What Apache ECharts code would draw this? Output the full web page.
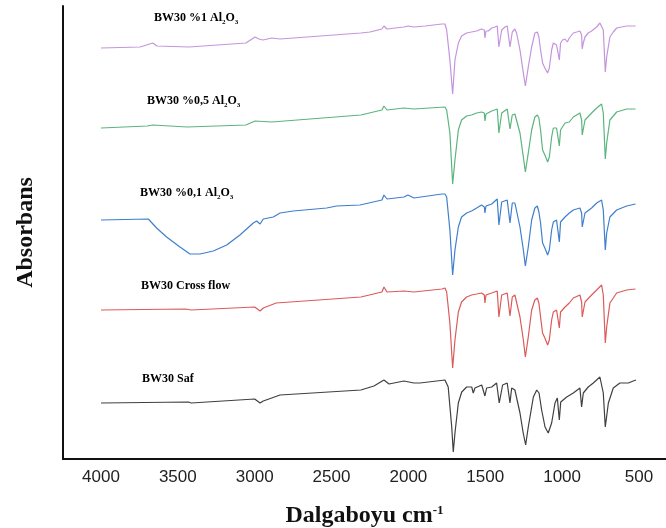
<!DOCTYPE html>
<html>
<head>
<meta charset="utf-8">
<script src="https://cdn.jsdelivr.net/npm/echarts@6/dist/echarts.min.js"></script>
<style>
html,body{margin:0;padding:0;background:#fff;}
#chart{width:666px;height:528px;}
</style>
</head>
<body>
<div id="chart"></div>
<script>
// x tick labels (wavenumber, cm-1)
const xTicks = [4000, 3500, 3000, 2500, 2000, 1500, 1000, 500];

// series names
const seriesNames = ['BW30 %1 Al2O3', 'BW30 %0,5 Al2O3', 'BW30 %0,1 Al2O3', 'BW30 Cross flow', 'BW30 Saf'];

// spectra: [wavenumber, absorbance (offset, a.u.)]
const spec1Al = [[4000,4.11],[3746,4.12],[3662,4.16],[3636,4.13],[3427,4.12],[3057,4.16],[2998,4.22],[2972,4.20],[2946,4.19],[2888,4.21],[2835,4.20],[2309,4.26],[2250,4.27],[2172,4.30],[2159,4.33],[2139,4.30],[2029,4.32],[2003,4.33],[1964,4.32],[1892,4.33],[1782,4.35],[1762,4.35],[1751,4.29],[1730,3.99],[1712,3.65],[1697,3.99],[1675,4.16],[1654,4.23],[1621,4.26],[1589,4.27],[1556,4.28],[1524,4.30],[1506,4.29],[1502,4.21],[1495,4.28],[1480,4.28],[1458,4.31],[1437,4.32],[1422,4.33],[1411,4.12],[1404,4.12],[1393,4.29],[1372,4.32],[1357,4.33],[1348,4.32],[1339,4.12],[1333,4.12],[1324,4.27],[1307,4.30],[1296,4.26],[1274,4.09],[1252,3.86],[1239,3.73],[1220,3.92],[1198,4.12],[1177,4.26],[1161,4.27],[1151,4.22],[1140,4.09],[1127,3.96],[1112,3.91],[1094,3.86],[1083,3.91],[1068,4.09],[1057,4.16],[1046,4.16],[1036,4.14],[1018,3.99],[1010,4.16],[997,4.19],[981,4.20],[966,4.17],[953,4.21],[927,4.26],[905,4.27],[884,4.28],[873,4.24],[869,4.10],[862,4.16],[851,4.22],[830,4.26],[808,4.28],[797,4.27],[775,4.32],[754,4.36],[743,4.37],[732,4.29],[719,3.87],[710,4.02],[689,4.22],[667,4.27],[645,4.31],[613,4.32],[580,4.33],[537,4.33],[522,4.33]];

const spec05Al = [[4000,3.31],[3700,3.33],[3662,3.34],[3440,3.32],[3057,3.34],[2998,3.38],[2888,3.37],[2309,3.44],[2172,3.49],[2159,3.53],[2139,3.49],[2029,3.51],[1964,3.50],[1762,3.52],[1751,3.49],[1730,3.26],[1712,2.75],[1697,2.99],[1675,3.29],[1654,3.39],[1621,3.43],[1589,3.44],[1556,3.46],[1524,3.47],[1506,3.46],[1502,3.38],[1495,3.45],[1458,3.48],[1422,3.50],[1411,3.26],[1404,3.26],[1393,3.46],[1357,3.50],[1339,3.30],[1333,3.29],[1324,3.44],[1307,3.45],[1274,3.26],[1252,3.02],[1239,2.87],[1220,3.06],[1198,3.29],[1177,3.42],[1161,3.44],[1151,3.41],[1140,3.29],[1127,3.09],[1112,3.04],[1094,2.97],[1083,3.02],[1068,3.22],[1057,3.31],[1036,3.31],[1018,3.13],[1010,3.29],[981,3.36],[953,3.37],[927,3.42],[884,3.46],[873,3.39],[869,3.24],[851,3.39],[808,3.46],[775,3.51],[743,3.55],[732,3.46],[719,3.00],[710,3.16],[689,3.39],[645,3.47],[580,3.50],[522,3.50]];

const spec01Al = [[4000,2.39],[3692,2.40],[3638,2.31],[3573,2.22],[3486,2.12],[3421,2.05],[3356,2.05],[3269,2.08],[3182,2.14],[3096,2.24],[3009,2.36],[2987,2.38],[2965,2.35],[2944,2.40],[2879,2.42],[2835,2.46],[2749,2.48],[2532,2.51],[2467,2.53],[2315,2.54],[2172,2.59],[2159,2.64],[2139,2.60],[2029,2.62],[2003,2.64],[1964,2.61],[1782,2.65],[1762,2.65],[1751,2.62],[1730,2.29],[1712,1.84],[1697,2.09],[1675,2.32],[1654,2.42],[1621,2.46],[1589,2.48],[1556,2.51],[1524,2.54],[1506,2.52],[1502,2.46],[1495,2.53],[1458,2.55],[1422,2.60],[1411,2.34],[1404,2.34],[1393,2.57],[1357,2.59],[1339,2.36],[1333,2.35],[1324,2.56],[1307,2.56],[1274,2.32],[1252,2.09],[1239,1.93],[1220,2.12],[1198,2.39],[1177,2.51],[1161,2.53],[1151,2.47],[1140,2.36],[1127,2.16],[1112,2.11],[1094,2.04],[1083,2.09],[1068,2.29],[1057,2.37],[1036,2.39],[1018,2.17],[1010,2.37],[981,2.42],[953,2.46],[927,2.49],[884,2.51],[873,2.46],[869,2.32],[851,2.46],[808,2.51],[775,2.56],[743,2.59],[732,2.49],[719,2.09],[710,2.26],[689,2.42],[645,2.49],[580,2.53],[522,2.55]];

const specCross = [[4000,1.49],[3450,1.50],[3413,1.49],[3000,1.52],[2965,1.48],[2944,1.51],[2860,1.56],[2309,1.62],[2172,1.67],[2159,1.72],[2139,1.67],[2029,1.68],[1964,1.67],[1782,1.70],[1762,1.71],[1751,1.67],[1730,1.36],[1712,0.91],[1697,1.19],[1675,1.47],[1654,1.57],[1621,1.62],[1589,1.64],[1556,1.65],[1524,1.66],[1506,1.64],[1502,1.56],[1495,1.64],[1458,1.66],[1422,1.68],[1411,1.42],[1404,1.42],[1393,1.64],[1357,1.66],[1339,1.43],[1333,1.42],[1324,1.62],[1307,1.64],[1274,1.42],[1252,1.19],[1239,1.02],[1220,1.22],[1198,1.49],[1177,1.59],[1161,1.61],[1151,1.56],[1140,1.42],[1127,1.26],[1112,1.21],[1094,1.14],[1083,1.19],[1068,1.39],[1057,1.47],[1036,1.49],[1018,1.31],[1010,1.47],[981,1.52],[953,1.56],[927,1.61],[884,1.64],[873,1.57],[869,1.42],[851,1.57],[808,1.64],[775,1.69],[743,1.74],[732,1.64],[719,1.16],[710,1.32],[689,1.56],[645,1.66],[580,1.69],[522,1.70]];

const specSaf = [[4000,0.56],[3430,0.57],[3413,0.56],[3000,0.60],[2965,0.56],[2944,0.58],[2835,0.64],[2309,0.69],[2224,0.73],[2159,0.79],[2126,0.75],[2029,0.78],[1964,0.76],[1925,0.76],[1762,0.79],[1741,0.72],[1718,0.32],[1708,0.07],[1697,0.26],[1675,0.56],[1653,0.67],[1621,0.72],[1588,0.72],[1578,0.66],[1567,0.71],[1523,0.74],[1502,0.63],[1491,0.71],[1458,0.72],[1426,0.76],[1409,0.56],[1400,0.56],[1387,0.74],[1357,0.76],[1339,0.56],[1328,0.71],[1307,0.69],[1274,0.46],[1253,0.26],[1237,0.14],[1220,0.32],[1187,0.62],[1165,0.69],[1150,0.66],[1133,0.49],[1111,0.32],[1090,0.26],[1068,0.36],[1046,0.56],[1031,0.61],[1018,0.39],[1009,0.57],[970,0.62],[927,0.66],[884,0.71],[873,0.52],[862,0.66],[830,0.72],[797,0.76],[754,0.82],[743,0.82],[732,0.66],[719,0.32],[699,0.56],[667,0.71],[624,0.76],[569,0.76],[558,0.75],[537,0.78],[519,0.79]];

const allSpectra = [spec1Al, spec05Al, spec01Al, specCross, specSaf];
const colors = ['#c495dc', '#5cb47e', '#3f7fcc', '#dc5a5a', '#404040'];

const serif = '"Times New Roman", "Liberation Serif", serif';
const sans = 'Arial, "Liberation Sans", sans-serif';

const chart = echarts.init(document.getElementById('chart'), null, {renderer: 'canvas'});

const labelRich = {
  a: {fontFamily: serif, fontWeight: 'bold', fontSize: 12, lineHeight: 14, color: '#111', verticalAlign: 'top'},
  s: {fontFamily: serif, fontWeight: 'bold', fontSize: 7, lineHeight: 3, color: '#111', verticalAlign: 'bottom'}
};
const labelTexts = [
  '{a|BW30 %1 Al}{s|2}{a|O}{s|3}',
  '{a|BW30 %0,5 Al}{s|2}{a|O}{s|3}',
  '{a|BW30 %0,1 Al}{s|2}{a|O}{s|3}',
  '{a|BW30 Cross flow}',
  '{a|BW30 Saf}'
];
const labelPos = [[154, 19], [147, 102], [140, 194], [141, 287], [142, 380]];

chart.setOption({
  animation: false,
  backgroundColor: '#fff',
  grid: {left: 63, right: 0, top: 6, bottom: 69, containLabel: false, outerBoundsMode: 'none'},
  xAxis: {
    type: 'value',
    inverse: true,
    min: 324,
    max: 4247,
    name: '{n|Dalgaboyu cm}{s|-1}',
    nameLocation: 'middle',
    nameGap: 45,
    nameTextStyle: {
      rich: {
        n: {fontFamily: serif, fontWeight: 'bold', fontSize: 24, lineHeight: 28, color: '#111', verticalAlign: 'top'},
        s: {fontFamily: serif, fontWeight: 'bold', fontSize: 13, lineHeight: 14, color: '#111', verticalAlign: 'top'}
      }
    },
    axisLine: {show: true, lineStyle: {color: '#111', width: 2}},
    axisTick: {show: false},
    splitLine: {show: false},
    axisLabel: {
      customValues: xTicks,
      formatter: v => String(v),
      fontFamily: sans,
      fontSize: 17,
      color: '#222',
      margin: 10
    }
  },
  yAxis: {
    type: 'value',
    min: 0,
    max: 4.53,
    name: 'Absorbans',
    nameLocation: 'middle',
    nameGap: 25,
    nameTextStyle: {fontFamily: serif, fontWeight: 'bold', fontSize: 24, color: '#111'},
    axisLine: {show: true, lineStyle: {color: '#111', width: 2}},
    axisTick: {show: false},
    axisLabel: {show: false},
    splitLine: {show: false}
  },
  series: allSpectra.map((d, i) => ({
    name: seriesNames[i],
    type: 'line',
    data: d,
    showSymbol: false,
    symbol: 'none',
    lineStyle: {color: colors[i], width: 1.2},
    itemStyle: {color: colors[i]},
    z: 2
  })),
  graphic: labelTexts.map((t, i) => ({
    type: 'text',
    x: labelPos[i][0],
    y: labelPos[i][1],
    style: {text: t, rich: labelRich, align: 'left', verticalAlign: 'middle'}
  }))
});
</script>
</body>
</html>
